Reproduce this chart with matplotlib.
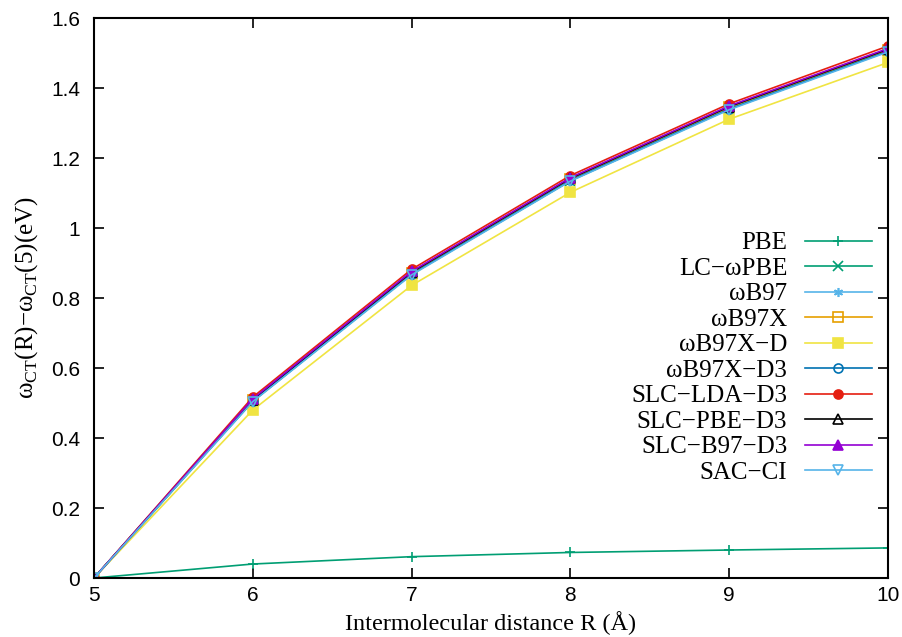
import matplotlib
matplotlib.use('Agg')
import matplotlib.pyplot as plt
from matplotlib.ticker import FormatStrFormatter, MultipleLocator

plt.rcParams['mathtext.fontset'] = 'custom'
plt.rcParams['mathtext.rm'] = 'Liberation Serif'

R = [5, 6, 7, 8, 9, 10]

names = ['PBE', 'LC\u2212\u03c9PBE', '\u03c9B97', '\u03c9B97X', '\u03c9B97X\u2212D',
         '\u03c9B97X\u2212D3', 'SLC\u2212LDA\u2212D3', 'SLC\u2212PBE\u2212D3',
         'SLC\u2212B97\u2212D3', 'SAC\u2212CI']

pbe = [0, 0.040, 0.061, 0.073, 0.080, 0.086]
lc_wpbe = [0, 0.505, 0.868, 1.135, 1.340, 1.505]
wb97 = [0, 0.507, 0.870, 1.138, 1.342, 1.507]
wb97x = [0, 0.509, 0.872, 1.140, 1.345, 1.509]
wb97x_d = [0, 0.480, 0.836, 1.102, 1.311, 1.473]
wb97x_d3 = [0, 0.506, 0.868, 1.136, 1.340, 1.505]
slc_lda = [0, 0.517, 0.882, 1.150, 1.355, 1.520]
slc_pbe = [0, 0.510, 0.874, 1.142, 1.347, 1.511]
slc_b97 = [0, 0.512, 0.876, 1.144, 1.349, 1.513]
sac_ci = [0, 0.504, 0.866, 1.134, 1.338, 1.503]

series = [pbe, lc_wpbe, wb97, wb97x, wb97x_d, wb97x_d3, slc_lda, slc_pbe, slc_b97, sac_ci]
colors = ['#009e73', '#009e73', '#56b4e9', '#e69f00', '#f0e442',
          '#0072b2', '#e51e10', '#000000', '#9400d3', '#56b4e9']
markers = ['+', 'x', (6, 2, 0), 's', 's', 'o', 'o', '^', '^', 'v']
filled = [True, True, True, False, True, False, True, False, True, False]

fig = plt.figure(figsize=(9.02, 6.37), dpi=100)
# axes box: x 94..888 px, y 18..578 px
ax = fig.add_axes([0.1042, 0.0926, 0.8803, 0.8791])

for y, name, c, m, f in zip(series, names, colors, markers, filled):
    ax.plot(R, y, color=c, lw=1.2, marker=m, markersize=6.5, markeredgewidth=1.2,
            markerfacecolor=c if f else 'none', markeredgecolor=c, label=name)

ax.set_xlim(5, 10)
ax.set_ylim(0, 1.6)
ax.xaxis.set_major_locator(MultipleLocator(1))
ax.yaxis.set_major_locator(MultipleLocator(0.2))
ax.yaxis.set_major_formatter(FormatStrFormatter('%g'))
ax.tick_params(direction='in', top=True, right=True, length=7, width=1.2,
               labelsize=15, pad=10)
ax.tick_params(axis='x', pad=6)
for t in ax.get_xticklabels() + ax.get_yticklabels():
    t.set_family('Liberation Sans')
for s in ax.spines.values():
    s.set_linewidth(1.5)

ax.set_xlabel('Intermolecular distance R (\u00c5)', family='Liberation Serif',
              fontsize=17.5, labelpad=4)
ax.set_ylabel('\u03c9$_{\\mathrm{CT}}$(R)\u2212\u03c9$_{\\mathrm{CT}}$(5)(eV)',
              family='Liberation Serif', fontsize=18, labelpad=8)

leg = ax.legend(loc='center right', bbox_to_anchor=(0.98, 0.393), frameon=False,
                borderaxespad=0, borderpad=0,
                markerfirst=False, handlelength=2.7, handletextpad=0.7,
                labelspacing=0.12, prop={'family': 'Liberation Serif', 'size': 18})

fig.savefig('out.png', dpi=100)
